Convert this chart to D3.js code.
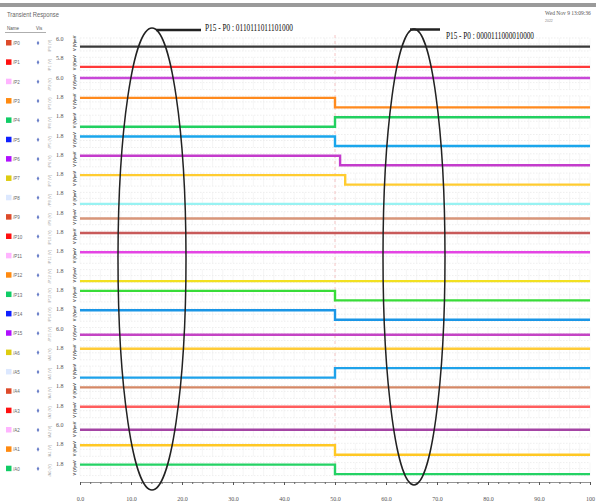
<!DOCTYPE html>
<html><head><meta charset="utf-8">
<script src="https://cdn.jsdelivr.net/npm/d3@7"></script>
<style>body{margin:0;background:#fff}svg{display:block}</style>
</head><body>
<script>
// ---- data ----
const signalNames = ["/P0","/P1","/P2","/P3","/P4","/P5","/P6","/P7","/P8","/P9","/P10","/P11","/P12","/P13","/P14","/P15","/A6","/A5","/A4","/A3","/A2","/A1","/A0"];
const tickTop = ["6.0","5.8","6.0","1.8","1.8","1.8","1.8","1.8","1.8","1.8","1.8","1.8","1.8","1.8","1.8","6.0","1.8","1.8","1.8","1.8","6.0","1.8","1.8"];
const valueBefore = [0.54,0.36,1.9,1.8,0.0,1.8,1.8,1.8,0.0,0.9,1.8,1.8,0.0,1.8,1.8,0.81,1.8,0.0,1.8,1.8,1.08,1.8,1.8];
const valueAfter  = [0.54,0.36,1.9,0.0,1.8,0.0,0.0,0.0,0.0,0.9,1.8,1.8,0.0,0.0,0.0,0.81,1.8,1.8,1.8,1.8,1.08,0.0,0.0];
const switchTime  = [50,50,50,50,50,50,51,52,50,50,50,50,50,50,50,50,50,50,50,50,50,50,50];
const lineColors = ["#3a3a3a","#ff3a3a","#c848d8","#ff8a1e","#22d060","#1aa6ec","#c43ccc","#ffcc30","#98f2f2","#d8967a","#c85a5a","#e444e4","#f2e020","#38dc38","#1a96e6","#c444c4","#ffcc38","#1ea2ea","#d48866","#ff5e5e","#a444a4","#ffc824","#24d264"];
const legendColors = ["#dd4a2a","#ff1010","#ffb4ff","#ff8a10","#10cc66","#1020ff","#b010ff","#ddcc10","#dce8ff"];
const xTicks = [0,10,20,30,40,50,60,70,80,90,100];
const xTickLabels = ["0.0","10.0","20.0","30.0","40.0","50.0","60.0","70.0","80.0","90.0","100"];
const noteLeft = "P15 - P0 : 0110111011101000";
const noteRight = "P15 - P0 : 0000111000010000";

const W = 596, H = 503;
const svg = d3.select("body").append("svg").attr("width", W).attr("height", H);

const x = d3.scaleLinear().domain([0, 100]).range([80, 590]);
const rowTop = i => 38 + 19.3 * i;

// top bar & header
svg.append("rect").attr("x",0).attr("y",3).attr("width",W).attr("height",4).attr("fill","#9a9a9a");
svg.append("text").attr("x",7).attr("y",17).attr("font-family","Liberation Sans Narrow, Liberation Sans, sans-serif")
  .attr("font-size",7).attr("fill","#666").attr("textLength",52).attr("lengthAdjust","spacingAndGlyphs").text("Transient Response");
svg.append("text").attr("x",7).attr("y",30).attr("font-size",4.5).attr("fill","#555").attr("font-family","sans-serif").text("Name");
svg.append("text").attr("x",36).attr("y",30).attr("font-size",4.5).attr("fill","#555").attr("font-family","sans-serif").text("Vis");
svg.append("line").attr("x1",5).attr("x2",46).attr("y1",32.5).attr("y2",32.5).attr("stroke","#777").attr("stroke-width",0.6);
svg.append("text").attr("x",545).attr("y",15).attr("font-size",5.5).attr("fill","#555").attr("font-family","Liberation Serif, serif").text("Wed Nov 9 13:09:36");
svg.append("text").attr("x",545).attr("y",22).attr("font-size",3.5).attr("fill","#888").attr("font-family","sans-serif").text("2022");

// row grids
const grid = svg.append("g");
signalNames.forEach((n, i) => {
  const t = rowTop(i);
  [0, 6, 13].forEach(d => {
    grid.append("line").attr("x1", x(0)).attr("x2", x(100)).attr("y1", t + d).attr("y2", t + d)
      .attr("stroke", "#e2e2e2").attr("stroke-width", 0.6).attr("stroke-dasharray", "1.5,1.5");
  });
  d3.range(0, 101, 2).forEach(v => {
    grid.append("line").attr("x1", x(v)).attr("x2", x(v)).attr("y1", t).attr("y2", t + 13)
      .attr("stroke", "#ececec").attr("stroke-width", 0.5);
  });
});

// marker at 50
svg.append("line").attr("x1", x(50)).attr("x2", x(50)).attr("y1", 35).attr("y2", 480)
  .attr("stroke", "#f4b8b8").attr("stroke-width", 0.8).attr("stroke-dasharray", "3,3");

// legend & axis labels & lines
const line = d3.line().x(d => x(d[0])).y(d => d[1]);
signalNames.forEach((n, i) => {
  const t = rowTop(i);
  const y = d3.scaleLinear().domain([0, 1.8]).range([t + 11.5, t + 2]);
  const cy = 43 + 19.35 * i;
  svg.append("rect").attr("x", 6).attr("y", cy - 3).attr("width", 5.5).attr("height", 5.5).attr("fill", legendColors[i % 9]);
  svg.append("text").attr("x", 13).attr("y", cy + 2).attr("font-size", 4.5).attr("fill", "#666").attr("font-family", "sans-serif").text(n);
  svg.append("path").attr("d", d3.symbol(d3.symbolDiamond, 6)()).attr("transform", `translate(38,${cy})`).attr("fill", "#6a7fc8");
  svg.append("text").attr("x", 56).attr("y", t + 3).attr("font-size", 6).attr("fill", "#555").attr("font-family", "Liberation Serif, serif").text(tickTop[i]);
  svg.append("text").attr("transform", `translate(51,${t + 14}) rotate(-90)`).attr("font-size", 4).attr("fill", "#aaa").attr("font-family", "sans-serif").text(n + " (V)");
  svg.append("text").attr("transform", `translate(76,${t + 13}) rotate(-90)`).attr("font-size", 4).attr("font-weight", "bold").attr("fill", "#444").attr("font-family", "sans-serif").text("V (V)mV");
  const pts = [[0, y(valueBefore[i])], [switchTime[i], y(valueBefore[i])], [switchTime[i], y(valueAfter[i])], [100, y(valueAfter[i])]];
  svg.append("path").attr("d", line(pts)).attr("fill", "none").attr("stroke", lineColors[i]).attr("stroke-width", 2.4);
});

// x axis
const axisY = 482;
const ax = svg.append("g").attr("transform", `translate(0,${axisY})`)
  .call(d3.axisBottom(x).tickValues(d3.range(0, 101, 2)).tickSize(2).tickFormat(""));
ax.select(".domain").attr("stroke", "#666").attr("stroke-width", 0.7);
ax.selectAll(".tick line").attr("stroke", "#666");
const ax2 = svg.append("g").attr("transform", `translate(0,${axisY})`)
  .call(d3.axisBottom(x).tickValues(xTicks).tickSize(3).tickFormat((d, k) => xTickLabels[k]));
ax2.select(".domain").remove();
ax2.selectAll(".tick line").attr("stroke", "#555");
ax2.selectAll(".tick text").attr("font-size", 6).attr("fill", "#555").attr("font-family", "Liberation Serif, serif").attr("dy", "2.2em");

// annotations
svg.append("ellipse").attr("cx", 152).attr("cy", 259).attr("rx", 34).attr("ry", 231)
  .attr("fill", "none").attr("stroke", "#222").attr("stroke-width", 1.5);
svg.append("ellipse").attr("cx", 414).attr("cy", 257).attr("rx", 31).attr("ry", 228)
  .attr("fill", "none").attr("stroke", "#222").attr("stroke-width", 1.5);
svg.append("line").attr("x1", 156).attr("x2", 201).attr("y1", 30).attr("y2", 30).attr("stroke", "#222").attr("stroke-width", 2.5);
svg.append("line").attr("x1", 410).attr("x2", 440).attr("y1", 29.5).attr("y2", 29.5).attr("stroke", "#222").attr("stroke-width", 2.5);
svg.append("text").attr("x", 205).attr("y", 31).attr("font-size", 10).attr("font-family", "Liberation Serif, serif")
  .attr("fill", "#111").attr("textLength", 88).attr("lengthAdjust", "spacingAndGlyphs").text(noteLeft);
svg.append("text").attr("x", 446).attr("y", 39).attr("font-size", 10).attr("font-family", "Liberation Serif, serif")
  .attr("fill", "#111").attr("textLength", 88).attr("lengthAdjust", "spacingAndGlyphs").text(noteRight);
</script>
</body></html>
